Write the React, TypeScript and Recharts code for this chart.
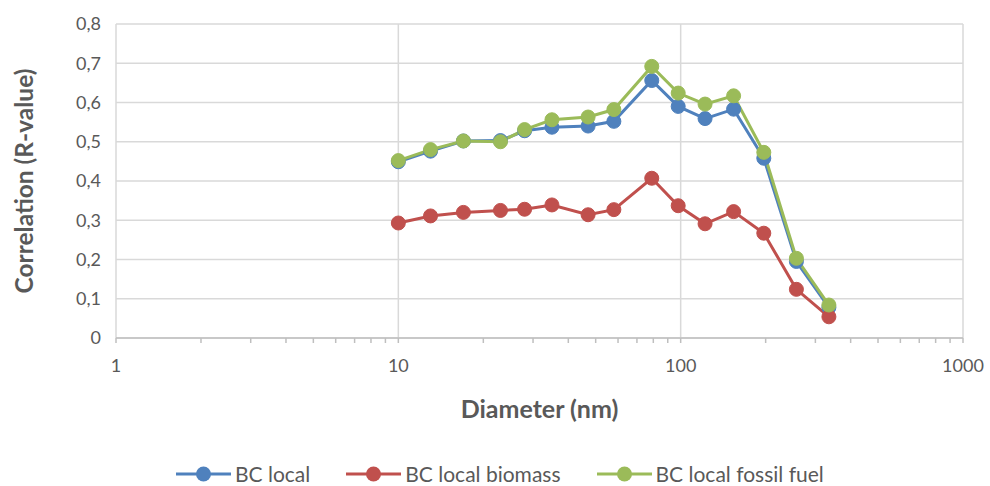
import {
  CartesianGrid,
  Legend,
  Line,
  LineChart,
  XAxis,
  YAxis,
} from 'recharts';

const diameters = [10, 13, 17, 23, 28, 35, 47, 58, 79, 98, 122, 154, 197, 257, 335];
const bcLocal = [0.449, 0.476, 0.502, 0.503, 0.528, 0.537, 0.54, 0.552, 0.656, 0.59, 0.559, 0.583, 0.458, 0.195, 0.078];
const bcBiomass = [0.293, 0.311, 0.32, 0.325, 0.328, 0.339, 0.314, 0.327, 0.407, 0.337, 0.291, 0.322, 0.267, 0.124, 0.054];
const bcFossil = [0.452, 0.48, 0.502, 0.5, 0.531, 0.556, 0.563, 0.582, 0.692, 0.624, 0.596, 0.617, 0.473, 0.203, 0.084];

const decadeTicks = [1, 10, 100, 1000];
const minorTicks = [2, 3, 4, 5, 6, 7, 8, 9, 20, 30, 40, 50, 60, 70, 80, 90, 200, 300, 400, 500, 600, 700, 800, 900];
const yTicks = [0, 0.1, 0.2, 0.3, 0.4, 0.5, 0.6, 0.7, 0.8];

const data = diameters.map((d, i) => ({
  d,
  local: bcLocal[i],
  biomass: bcBiomass[i],
  fossil: bcFossil[i],
}));

const FONT = 'Lato, "Open Sans", sans-serif';
const TEXT = '#595959';

const series = [
  { key: 'local', name: 'BC local', color: '#4f81bd' },
  { key: 'biomass', name: 'BC local biomass', color: '#c0504d' },
  { key: 'fossil', name: 'BC local fossil fuel', color: '#9bbb59' },
];

// vertical grid only at the decades (the axis also carries minor ticks)
const decadeGrid = ({ xAxis, offset }: any) => {
  if (xAxis && typeof xAxis.scale === 'function') {
    return decadeTicks.map((v) => xAxis.scale(v));
  }
  const span = Math.log10(1000) - Math.log10(1);
  return decadeTicks.map((v) => offset.left + (offset.width * Math.log10(v)) / span);
};

function LegendBox() {
  return (
    <div
      style={{
        display: 'flex',
        justifyContent: 'flex-start',
        alignItems: 'center',
        height: 24,
        lineHeight: '24px',
        fontFamily: FONT,
        fontSize: 21,
        color: TEXT,
        paddingLeft: 166,
        whiteSpace: 'nowrap',
      }}
    >
      {series.map((s) => (
        <div
          key={s.key}
          style={{ display: 'flex', alignItems: 'center', marginRight: 36 }}
        >
          <svg width={55} height={18}>
            <line x1={0} y1={9} x2={55} y2={9} stroke={s.color} strokeWidth={3} />
            <circle cx={27.5} cy={9} r={7.5} fill={s.color} />
          </svg>
          <span style={{ marginLeft: 4 }}>{s.name}</span>
        </div>
      ))}
    </div>
  );
}

export default function App() {
  return (
    <div style={{ position: 'absolute', left: 0, top: 0, background: '#fff' }}>
      <LineChart
        width={990}
        height={486}
        data={data}
        margin={{ top: 24, right: 27, bottom: 0, left: 10 }}
      >
        <CartesianGrid
          stroke="#d9d9d9"
          strokeWidth={1.5}
          verticalCoordinatesGenerator={decadeGrid}
        />
        <XAxis
          dataKey="d"
          type="number"
          scale="log"
          domain={[1, 1000]}
          ticks={[...decadeTicks, ...minorTicks].sort((a, b) => a - b)}
          interval={0}
          allowDataOverflow
          tickFormatter={(v: number) => (decadeTicks.includes(v) ? String(v) : '')}
          stroke="#bfbfbf"
          strokeWidth={1.5}
          tickSize={5}
          tickMargin={16}
          tick={{ fill: TEXT, fontSize: 18, fontFamily: FONT }}
          height={124}
          label={{
            value: 'Diameter (nm)',
            position: 'insideBottom',
            offset: 44,
            fill: TEXT,
            fontSize: 25,
            fontWeight: 'bold',
            fontFamily: FONT,
          }}
        />
        <YAxis
          type="number"
          domain={[0, 0.8]}
          ticks={yTicks}
          interval={0}
          axisLine={false}
          tickLine={false}
          tickSize={0}
          tickMargin={15}
          width={106}
          tickFormatter={(v: number) => String(Math.round(v * 10) / 10).replace('.', ',')}
          tick={{ fill: TEXT, fontSize: 18, fontFamily: FONT }}
          label={{
            value: 'Correlation (R-value)',
            angle: -90,
            position: 'insideLeft',
            offset: 14,
            textAnchor: 'middle',
            fill: TEXT,
            fontSize: 24.5,
            fontWeight: 'bold',
            fontFamily: FONT,
          }}
        />
        <Legend verticalAlign="bottom" content={<LegendBox />} />
        {series.map((s) => (
          <Line
            key={s.key}
            dataKey={s.key}
            name={s.name}
            stroke={s.color}
            strokeWidth={3}
            dot={{ r: 7, fill: s.color, stroke: s.color, strokeWidth: 1 }}
            isAnimationActive={false}
          />
        ))}
      </LineChart>
    </div>
  );
}
